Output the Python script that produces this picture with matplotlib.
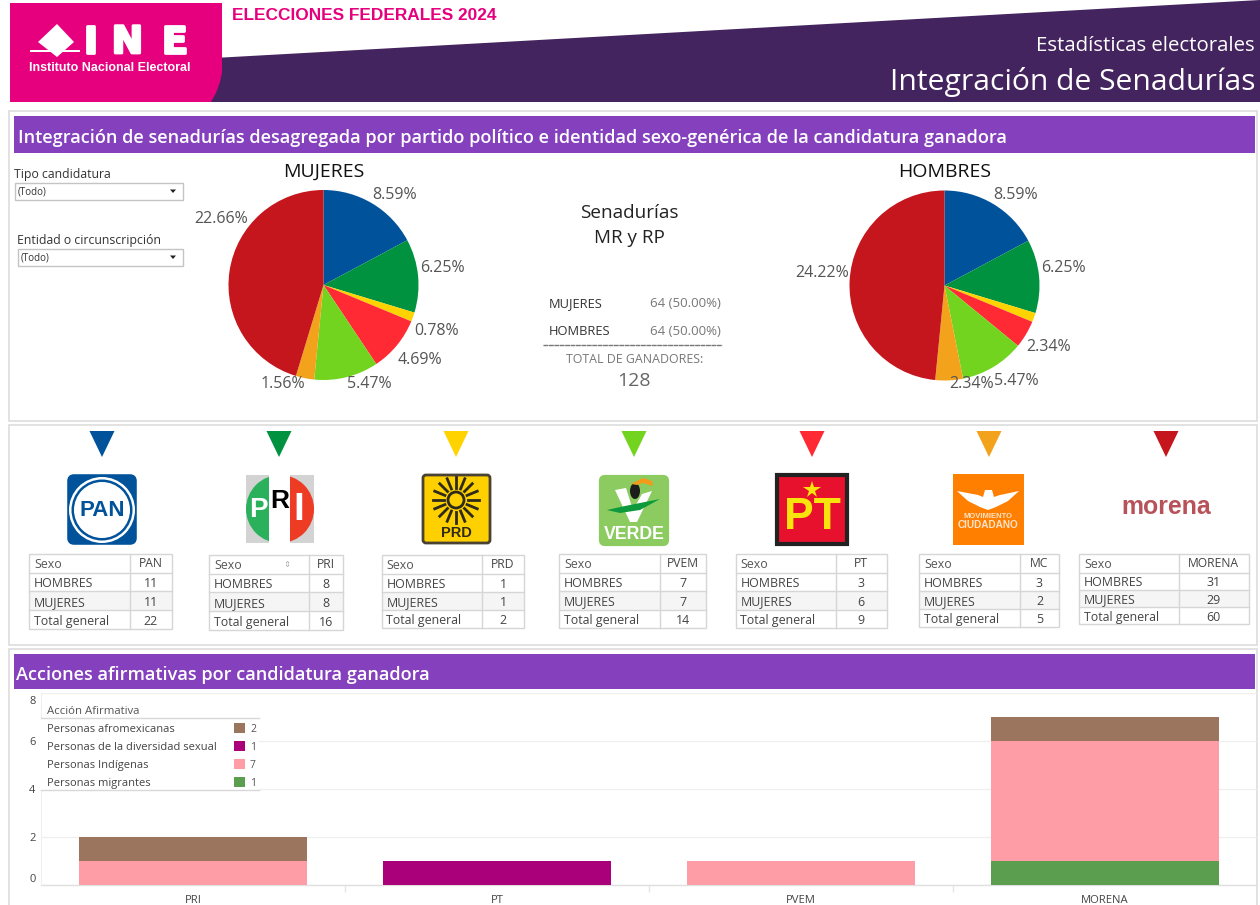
import matplotlib
matplotlib.use("Agg")
import matplotlib.pyplot as plt
import matplotlib.patheffects as pe
from matplotlib.patches import Rectangle, Polygon, FancyBboxPatch, Circle, Wedge, Ellipse
from matplotlib.transforms import ScaledTranslation
import numpy as np

# ---- data ----
parties = ["PAN", "PRI", "PRD", "PVEM", "PT", "MC", "MORENA"]
party_colors = ["#00529b", "#00923f", "#ffd300", "#72d41e", "#ff2a33", "#f3a21b", "#c4161c"]
hombres = [11, 8, 1, 7, 3, 3, 31]
mujeres = [11, 8, 1, 7, 6, 2, 29]
pie_order = ["PAN", "PRI", "PRD", "PT", "PVEM", "MC", "MORENA"]

categories = ["PRI", "PT", "PVEM", "MORENA"]
afromexicanas = [1, 0, 0, 1]
diversidad = [0, 1, 0, 0]
indigenas = [1, 0, 1, 5]
migrantes = [0, 0, 0, 1]
y_ticks = [0, 2, 4, 6, 8]

legend_names = ["Personas afromexicanas", "Personas de la diversidad sexual",
                "Personas Indígenas", "Personas migrantes"]
legend_colors = ["#9c755f", "#aa0079", "#ff9da7", "#5c9e50"]

# ---- setup ----
W, H = 1260, 905
FONT = "Open Sans"
SANS = "Liberation Sans"
plt.rcParams["font.family"] = [FONT, "DejaVu Sans"]
fig = plt.figure(figsize=(W / 100, H / 100), dpi=100, facecolor="white")

def overlay(z):
    a = fig.add_axes([0, 0, 1, 1], zorder=z)
    a.set_xlim(0, W)
    a.set_ylim(H, 0)
    a.axis("off")
    a.patch.set_alpha(0)
    return a

def px_axes(x0, y0, x1, y1, z):
    return fig.add_axes([x0 / W, 1 - y1 / H, (x1 - x0) / W, (y1 - y0) / H], zorder=z)

bg = overlay(0)
top = overlay(5)
TXT = "#333333"

def T(a, x, y, s, fontsize=8, **kw):
    """Open Sans text, nudged so that its visual centre sits on y."""
    kw.setdefault("ha", "left")
    kw.setdefault("va", "center")
    return a.text(x, y + 0.2 * fontsize, s, fontsize=fontsize, **kw)

def L(x, y, s, fontsize, color="white", family=SANS, **kw):
    """Logo lettering."""
    return bg.text(x, y, s, color=color, family=family, weight="bold", fontsize=fontsize,
                   ha="center", va="center", **kw)

# ---- header ----
bg.add_patch(Polygon([[205, 58.5], [1260, 0], [1260, 102], [205, 102]], color="#44245e", lw=0))
bg.add_patch(Polygon([[10, 3], [222, 3], [222, 72], [220, 82], [216, 93], [211, 102], [10, 102]],
                     color="#e6007e", lw=0))
bg.add_patch(Polygon([[57, 24], [74, 42], [57, 57], [38, 42]], color="white", lw=0))
bg.add_patch(Rectangle((30, 50), 23, 1.6, color="white", lw=0))
bg.add_patch(Rectangle((61, 50), 19, 1.6, color="white", lw=0))
for cx_, ch in [(91, "I"), (127.5, "N"), (174.5, "E")]:
    L(cx_, 43, ch, 27, family="DejaVu Sans",
      path_effects=[pe.withStroke(linewidth=2, foreground="white")])
L(110, 68, "Instituto Nacional Electoral", 9)
L(364.5, 16, "ELECCIONES FEDERALES 2024", 12.45, color="#e6007e")
T(bg, 1255, 43, "Estadísticas electorales", 14.7, color="white", ha="right", weight="medium")
T(bg, 1255, 78, "Integración de Senadurías", 21.6, color="white", ha="right", weight="medium")

# ---- panels ----
for y0, y1 in [(111, 421), (425, 645), (649, 915)]:
    bg.add_patch(Rectangle((9, y0), 1248, y1 - y0, fc="white", ec="#dddddd", lw=1.2))
for y0, y1, t in [(116, 153, "Integración de senadurías desagregada por partido político e identidad sexo-genérica de la candidatura ganadora"),
                  (654, 689, "Acciones afirmativas por candidatura ganadora")]:
    bg.add_patch(Rectangle((14, y0), 1241, y1 - y0, color="#8541bd", lw=0))
    T(bg, 18 if y0 < 400 else 16, (y0 + y1) / 2 + 0.5, t, 13.05, color="white", weight="semibold")

# ---- filters ----
for tx, ty, label, x0, y0, x1 in [(14, 173, "Tipo candidatura", 15, 183, 183),
                                  (17, 239, "Entidad o circunscripción", 18, 249, 183)]:
    T(bg, tx, ty, label, 8.8, color=TXT)
    bg.add_patch(Rectangle((x0, y0), x1 - x0, 17, fc="white", ec="#c4c4c4", lw=1))
    T(bg, x0 + 3, y0 + 8, "(Todo)", 7, color=TXT)
    bg.add_patch(Polygon([[170, y0 + 6.5], [176, y0 + 6.5], [173, y0 + 10]], color="#222222", lw=0))

# ---- pies ----
def draw_pie(cx, cy, r, series, title, label_xy):
    vals = [series[parties.index(p)] for p in pie_order]
    cols = [party_colors[parties.index(p)] for p in pie_order]
    a = px_axes(cx - r - 2, cy - r - 2, cx + r + 2, cy + r + 2, 3)
    a.pie(vals, colors=cols, startangle=90, counterclock=False, radius=r,
          wedgeprops=dict(linewidth=0))
    a.set_xlim(-r - 2, r + 2)
    a.set_ylim(-r - 2, r + 2)
    total = sum(hombres) + sum(mujeres)
    for v, xy in zip(vals, label_xy):
        if xy is not None:
            T(top, xy[0], xy[1] - 1, f"{v / total * 100:.2f}%", 11.5, color="#555555", ha="center")
    T(top, cx, 169, title, 14, color="#111111", ha="center")

draw_pie(323.5, 285, 95, mujeres, "MUJERES",
         [(395, 194), (442, 267), (437, 330), (420, 359), (369, 383), (283, 383), (221, 218)])
draw_pie(944.5, 285.5, 95, hombres, "HOMBRES",
         [(1016, 194), (1063, 267), None, (1049, 346), (1016, 380), (972, 383), (822, 272)])

# ---- centre summary ----
T(bg, 629, 210, "Senadurías", 13.6, color="#222222", ha="center")
T(bg, 629, 235, "MR y RP", 13.6, color="#222222", ha="center")
sm, sh = sum(mujeres), sum(hombres)
tot = sm + sh
for y, name, v in [(302, "MUJERES", sm), (329.5, "HOMBRES", sh)]:
    T(bg, 549, y, name, 9.3, color=TXT)
    T(bg, 721, y, f"{v} ({v / tot * 100:.2f}%)", 9.5, color="#777777", ha="right")
bg.plot([543, 722], [345, 345], color="#777777", lw=1, ls=(0, (3.5, 0.4)))
T(bg, 635, 357.5, "TOTAL DE GANADORES:", 8.9, color="#777777", ha="center")
T(bg, 634, 378.5, f"{tot}", 14, color="#666666", ha="center")

# ---- triangles ----
tri_x = [102, 279, 456, 634, 812, 989, 1166]
for x, c in zip(tri_x, party_colors):
    bg.add_patch(Polygon([[x - 12.5, 431], [x + 12.5, 431], [x, 457]], color=c, lw=0))

# ---- logos ----
# PAN
bg.add_patch(FancyBboxPatch((70, 477), 64, 65, boxstyle="round,pad=0,rounding_size=4", fc="#00529b", ec="#00529b", lw=4))
bg.add_patch(Circle((102, 510), 33, fc="white", lw=0))
bg.add_patch(Circle((102, 510), 30.5, fc="#00529b", lw=0))
bg.add_patch(Circle((102, 510), 28, fc="white", lw=0))
L(102, 510, "PAN", 16, color="#00529b")
# PRI
bg.add_patch(Rectangle((246, 475), 68, 68, color="#d3d3d3", lw=0))
bg.add_patch(Wedge((280, 509), 34, 90, 270, color="#2bb15c", lw=0))
bg.add_patch(Wedge((280, 509), 34, -90, 90, color="#ee3b24", lw=0))
bg.add_patch(Rectangle((269, 475), 21, 68, color="white", lw=0))
L(258, 510, "P", 20)
L(280, 501, "R", 19, color="black")
L(299, 510, "I", 28)
# PRD
bg.add_patch(FancyBboxPatch((423, 475), 67, 68, boxstyle="round,pad=0,rounding_size=3", fc="#ffd000", ec="#4a4232", lw=2))
for ang in np.arange(0, 360, 22.5):
    c_, s_ = np.cos(np.radians(ang)), np.sin(np.radians(ang))
    bg.plot([456 + 12 * c_, 456 + 23 * c_], [500 + 12 * s_, 500 + 23 * s_], color="#2e2a1c", lw=2)
bg.add_patch(Circle((456, 500), 8, fc="#ffd000", ec="#2e2a1c", lw=2))
L(456, 533, "PRD", 10.5, color="#2e2a1c")
# VERDE
bg.add_patch(FancyBboxPatch((601, 477), 66, 67, boxstyle="round,pad=0,rounding_size=4", fc="#8ccb60", ec="#8ccb60", lw=3))
bg.add_patch(Polygon([[615, 490], [626, 488], [633, 510], [642, 494], [652, 491], [637, 522], [630, 522]], color="white", lw=0))
bg.add_patch(Ellipse((635, 491), 10, 16, color="#1d1d1b", lw=0))
bg.add_patch(Polygon([[631, 484], [643, 478], [652, 481], [653, 486], [643, 483], [637, 485]], color="#f39a1b", lw=0))
bg.add_patch(Polygon([[607, 510], [625, 506], [660, 499], [640, 510], [620, 513]], color="#0c9a3c", lw=0))
L(634, 534, "VERDE", 12.8)
# PT
bg.add_patch(Rectangle((777, 475), 70, 69, fc="#e8112d", ec="#222222", lw=3))
bg.plot([812], [490], marker="*", color="#f8e30c", ms=13, mew=0)
L(812, 517, "PT", 32, color="#f8e30c")
# MC
bg.add_patch(Rectangle((953, 474), 71, 71, color="#ff7f00", lw=0))
bg.add_patch(Polygon([[957, 491], [978, 495], [983, 497], [985, 490], [992, 490], [994, 497], [1000, 495],
                      [1019, 491], [1008, 501], [996, 507], [988, 510], [980, 507], [968, 501]], color="white", lw=0))
L(988.5, 516, "MOVIMIENTO", 5.5, color="#ffe3c8")
L(988.5, 525, "CIUDADANO", 7.2, color="#ffe3c8")
# morena
L(1166, 507, "morena", 17.9, color="#b8525a")

# ---- tables ----
table_boxes = [(29, 130, 172, 554, 629), (209, 309, 343, 555, 630), (381.5, 482, 524, 555, 628),
               (559, 659.5, 706, 554, 628), (735.5, 836, 886.5, 554, 628), (919, 1020, 1059, 554, 627),
               (1079, 1179, 1248.5, 554, 624)]
LINE = "#d6d6d6"
for i, (name, box) in enumerate(zip(parties, table_boxes)):
    x0, xd, x1, y0, y1 = box
    hh = 18.5
    rh = (y1 - y0 - hh) / 3
    bg.add_patch(Rectangle((x0, y0 + hh + rh), x1 - x0, rh, color="#f5f5f5", lw=0))
    bg.add_patch(Rectangle((x0, y0), x1 - x0, y1 - y0, fc="none", ec=LINE, lw=1))
    bg.plot([xd, xd], [y0, y1], color=LINE, lw=1)
    ys = [y0 + hh + k * rh for k in range(3)]
    for yy in ys:
        bg.plot([x0, x1], [yy, yy], color=LINE, lw=1)
    T(bg, x0 + 5, y0 + hh / 2 - 1, "Sexo", 8.9, color="#555555")
    T(bg, (xd + x1) / 2, y0 + hh / 2 - 1, name, 8.7, color="#444444", ha="center")
    if name == "PRI":
        bg.text(xd - 22, y0 + hh / 2, "⇕", color="#aaaaaa", fontsize=6, ha="center", va="center", family="DejaVu Sans")
    rows = [("HOMBRES", hombres[i]), ("MUJERES", mujeres[i]), ("Total general", hombres[i] + mujeres[i])]
    for yy, (lab, val) in zip(ys, rows):
        T(bg, x0 + 5, yy + rh / 2, lab, 8.9, color="#444444")
        T(bg, (xd + x1) / 2, yy + rh / 2, str(val), 8.9, color="#444444", ha="center")

# ---- stacked bars ----
ax = px_axes(41, 693, 1257, 885, 2)
ax.patch.set_alpha(0)
xpos = np.arange(len(categories))
base = np.zeros(len(categories))
for vals, col in [(migrantes, legend_colors[3]), (indigenas, legend_colors[2]),
                  (diversidad, legend_colors[1]), (afromexicanas, legend_colors[0])]:
    ax.bar(xpos, vals, 0.75, bottom=base, color=col, lw=0, zorder=3)
    base = base + np.array(vals)
ax.set_xlim(-0.5, len(categories) - 0.5)
ax.set_ylim(0, 8)
ax.set_yticks(y_ticks)
ax.set_yticklabels([str(v) for v in y_ticks], fontsize=8, color="#444444")
ax.tick_params(axis="y", length=0, pad=4)
for lab, v in zip(ax.get_yticklabels(), y_ticks):
    if v == 8:
        lab.set_va("top")
        lab.set_transform(lab.get_transform() + ScaledTranslation(0, -2.5 / 100, fig.dpi_scale_trans))
    elif v == 0:
        lab.set_va("bottom")
ax.set_xticks(xpos)
ax.set_xticklabels(categories, fontsize=8.1, color="#444444")
ax.set_xticks(xpos[:-1] + 0.5, minor=True)
ax.tick_params(axis="x", which="major", length=0, pad=7)
ax.tick_params(axis="x", which="minor", length=5, color="#e4e4e4", width=1)
ax.grid(axis="y", color="#efefef", lw=0.9, zorder=0)
for s in ["top", "right", "bottom"]:
    ax.spines[s].set_visible(False)
ax.spines["left"].set_color("#efefef")
ax.axhline(0, color="#e0e0e0", lw=1, zorder=2, clip_on=False)

# ---- legend ----
top.add_patch(Rectangle((41, 718), 218, 72, fc="white", ec="none", zorder=1))
T(top, 47, 710, "Acción Afirmativa", 8.2, color="#555555")
top.plot([41, 259], [718, 718], color="#d8d8d8", lw=1)
top.plot([41, 259], [790, 790], color="#d8d8d8", lw=1)
legend_counts = [sum(afromexicanas), sum(diversidad), sum(indigenas), sum(migrantes)]
for y, n, c, v in zip([728, 746, 764, 782], legend_names, legend_colors, legend_counts):
    T(top, 47, y, n, 8, color="#444444", zorder=2)
    top.add_patch(Rectangle((234, y - 5), 11, 10, color=c, lw=0, zorder=2))
    T(top, 250, y, str(v), 7.5, color="#555555", zorder=2)

fig.savefig("out.png", dpi=100)
